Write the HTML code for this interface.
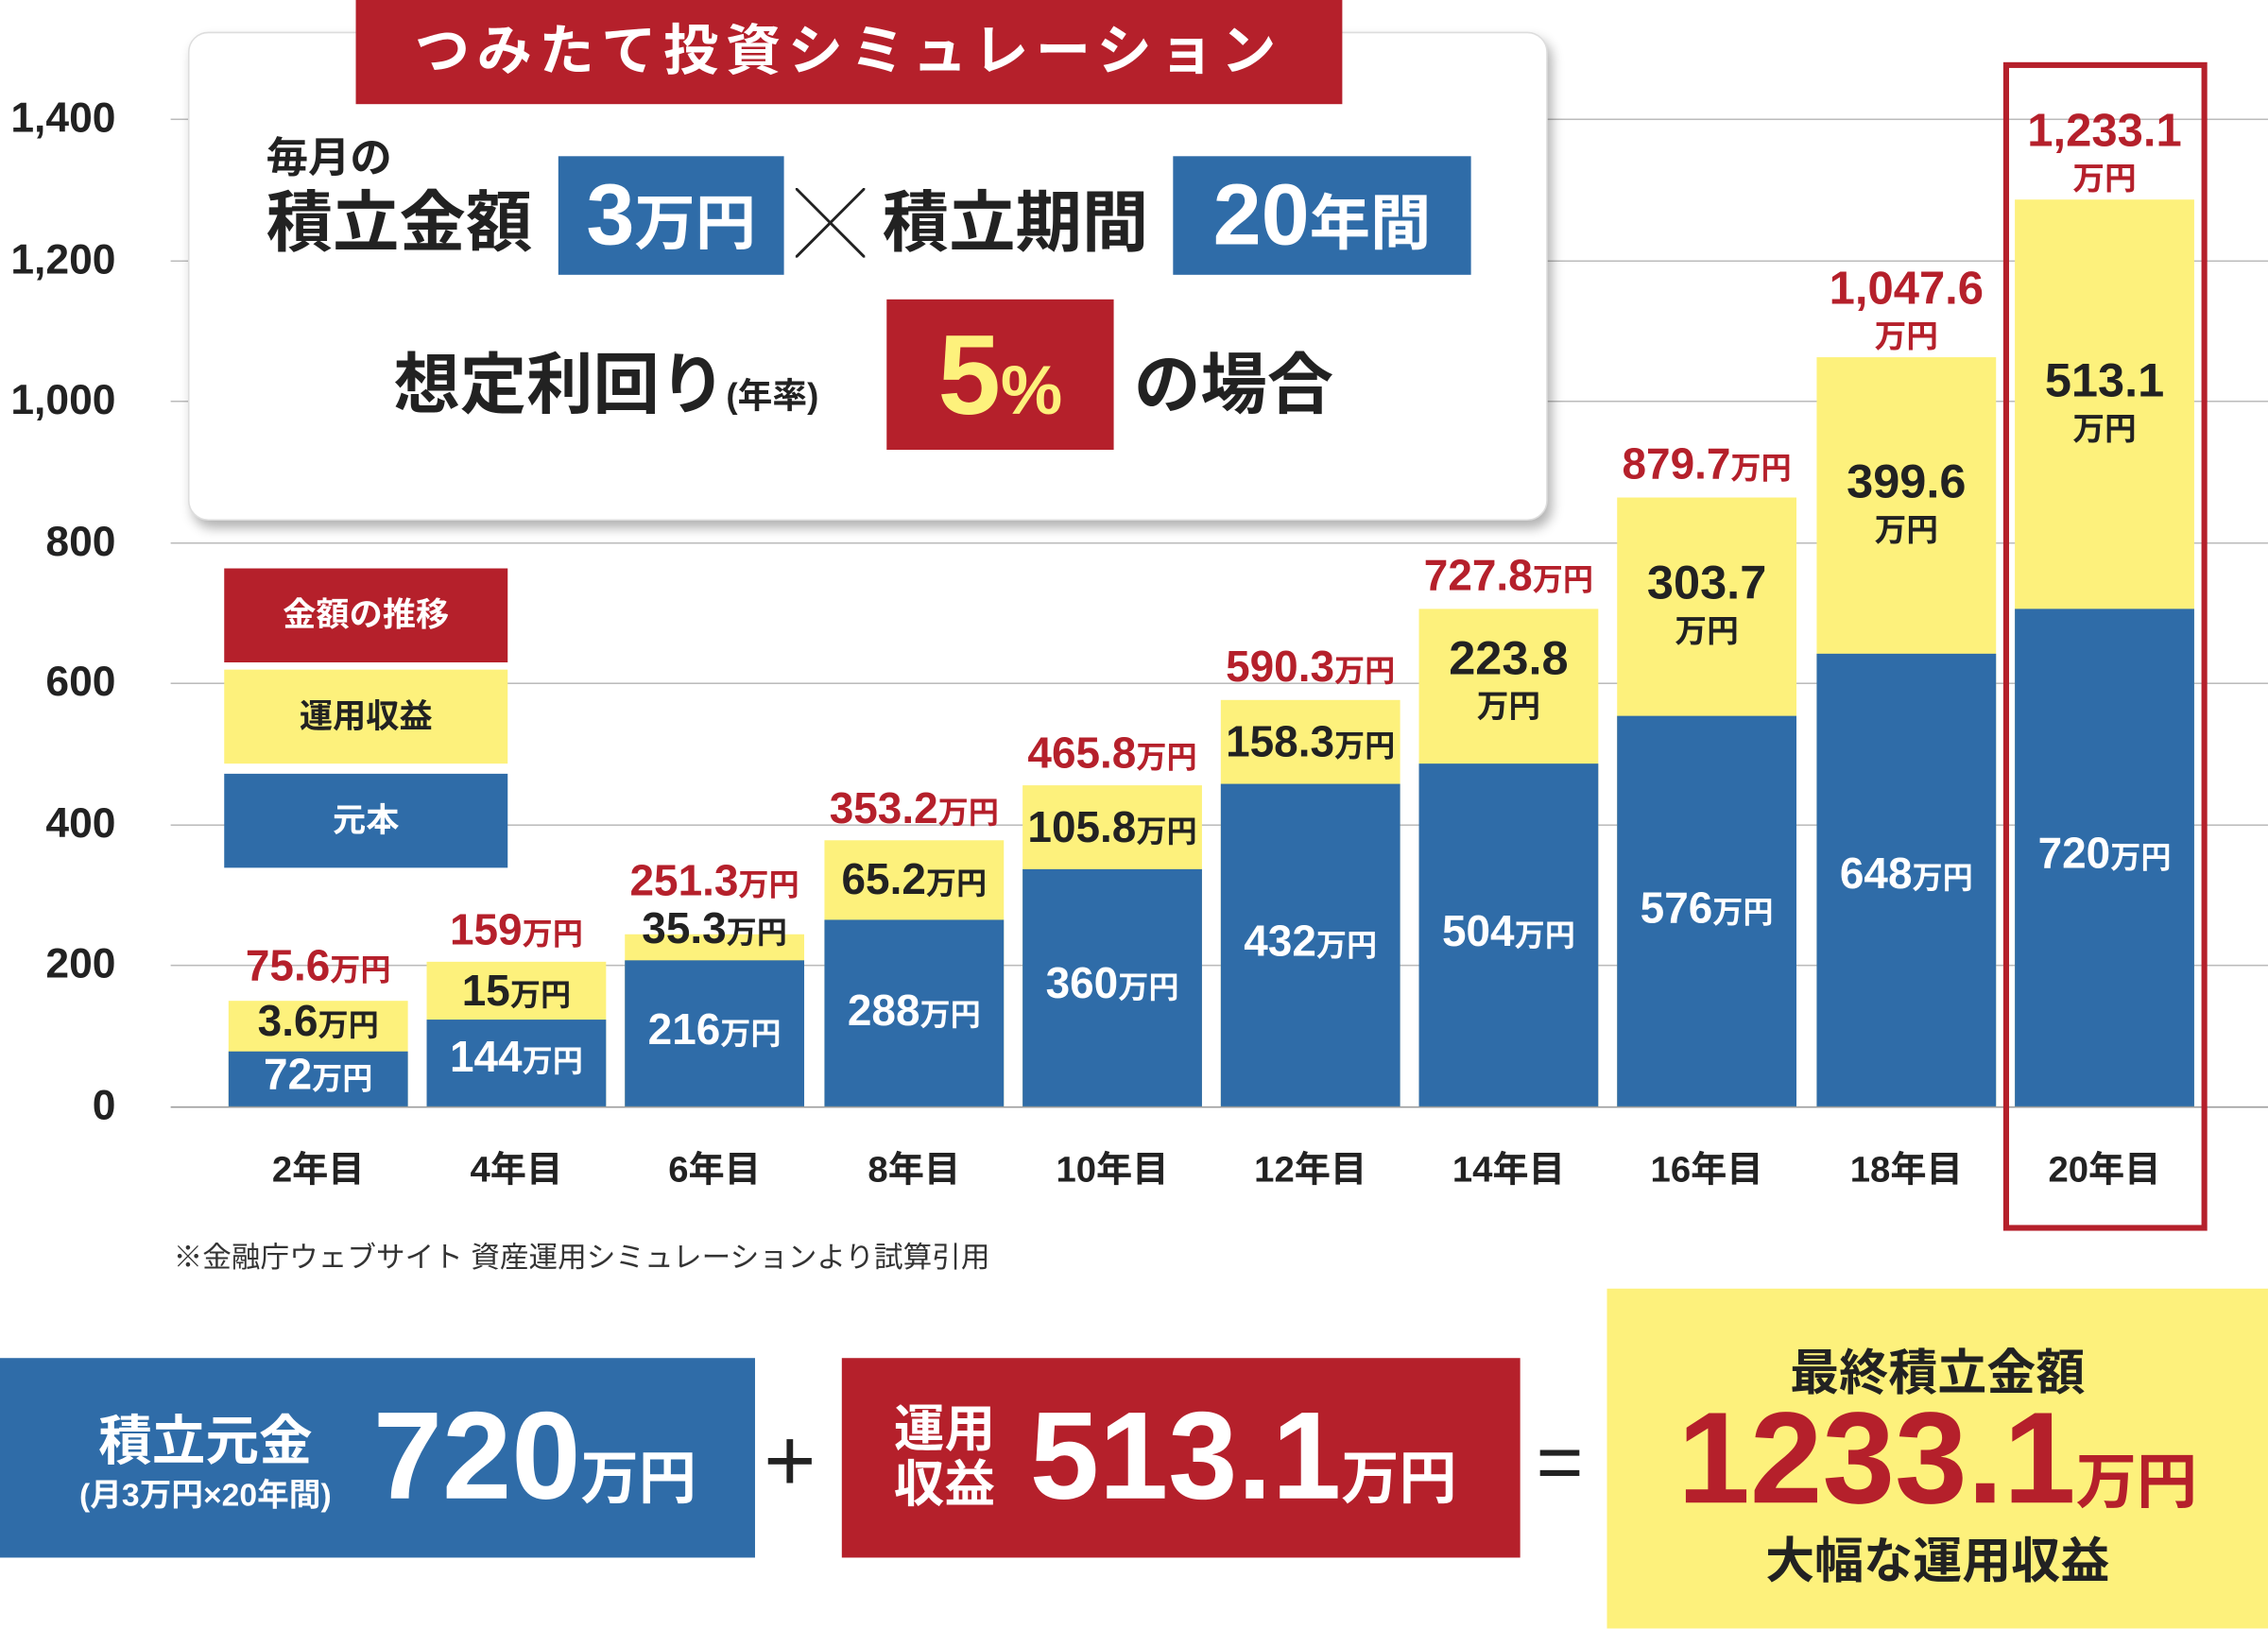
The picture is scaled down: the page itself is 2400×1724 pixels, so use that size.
<!DOCTYPE html>
<html><head><meta charset="utf-8"><style>
*{margin:0;padding:0;box-sizing:border-box}
html,body{width:2400px;height:1724px;overflow:hidden;background:#fff}
#w{position:absolute;left:0;top:0;width:1568px;height:1126px;transform:scale(1.5306);transform-origin:0 0;font-family:"Liberation Sans","Noto Sans CJK JP",sans-serif;font-weight:bold;color:#222}
.a{position:absolute;white-space:nowrap}
.g{position:absolute;left:118px;width:1450px;height:1px;background:#bbb}
.yl{position:absolute;left:0;width:80px;text-align:right;font-size:29px}
.b{position:absolute;width:124px;background:#2f6ca8}
.y{position:absolute;width:124px;background:#fdf17c}
.c{text-align:center;width:124px}
.w{color:#fff}
.r{color:#b5202b}
.s{font-size:0.7em}
</style></head><body><div id="w">
<div class="g" style="top:82px"></div><div class="g" style="top:180px"></div><div class="g" style="top:277px"></div><div class="g" style="top:375px"></div><div class="g" style="top:472px"></div><div class="g" style="top:570px"></div><div class="g" style="top:667px"></div><div class="g" style="top:765px;background:#999"></div>
<div class="yl" style="top:66px">1,400</div><div class="yl" style="top:164px">1,200</div><div class="yl" style="top:261px">1,000</div><div class="yl" style="top:359px">800</div><div class="yl" style="top:456px">600</div><div class="yl" style="top:554px">400</div><div class="yl" style="top:651px">200</div><div class="yl" style="top:749px">0</div>

<div class="y" style="left:158px;top:692px;height:73px"></div><div class="b" style="left:158px;top:727px;height:38px"></div>
<div class="y" style="left:295px;top:665px;height:100px"></div><div class="b" style="left:295px;top:705px;height:60px"></div>
<div class="y" style="left:432px;top:646px;height:119px"></div><div class="b" style="left:432px;top:664px;height:101px"></div>
<div class="y" style="left:570px;top:581px;height:184px"></div><div class="b" style="left:570px;top:636px;height:129px"></div>
<div class="y" style="left:707px;top:543px;height:222px"></div><div class="b" style="left:707px;top:601px;height:164px"></div>
<div class="y" style="left:844px;top:484px;height:281px"></div><div class="b" style="left:844px;top:542px;height:223px"></div>
<div class="y" style="left:981px;top:421px;height:344px"></div><div class="b" style="left:981px;top:528px;height:237px"></div>
<div class="y" style="left:1118px;top:344px;height:421px"></div><div class="b" style="left:1118px;top:495px;height:270px"></div>
<div class="y" style="left:1256px;top:247px;height:518px"></div><div class="b" style="left:1256px;top:452px;height:313px"></div>
<div class="y" style="left:1393px;top:138px;height:627px"></div><div class="b" style="left:1393px;top:421px;height:344px"></div>
<div class="a" style="left:1385px;top:43px;width:141px;height:808px;border:4px solid #b5202b"></div>

<div class="a c r" style="left:158px;top:652px;font-size:30px">75.6<span class="s">万円</span></div>
<div class="a c" style="left:158px;top:690px;font-size:30px">3.6<span class="s">万円</span></div>
<div class="a c w" style="left:158px;top:727px;font-size:30px">72<span class="s">万円</span></div>
<div class="a c r" style="left:295px;top:627px;font-size:30px">159<span class="s">万円</span></div>
<div class="a c" style="left:295px;top:669px;font-size:30px">15<span class="s">万円</span></div>
<div class="a c w" style="left:295px;top:715px;font-size:30px">144<span class="s">万円</span></div>
<div class="a c r" style="left:432px;top:593px;font-size:30px">251.3<span class="s">万円</span></div>
<div class="a c" style="left:432px;top:626px;font-size:30px">35.3<span class="s">万円</span></div>
<div class="a c w" style="left:432px;top:696px;font-size:30px">216<span class="s">万円</span></div>
<div class="a c r" style="left:570px;top:543px;font-size:30px">353.2<span class="s">万円</span></div>
<div class="a c" style="left:570px;top:592px;font-size:30px">65.2<span class="s">万円</span></div>
<div class="a c w" style="left:570px;top:683px;font-size:30px">288<span class="s">万円</span></div>
<div class="a c r" style="left:707px;top:505px;font-size:30px">465.8<span class="s">万円</span></div>
<div class="a c" style="left:707px;top:556px;font-size:30px">105.8<span class="s">万円</span></div>
<div class="a c w" style="left:707px;top:664px;font-size:30px">360<span class="s">万円</span></div>
<div class="a c r" style="left:844px;top:445px;font-size:30px">590.3<span class="s">万円</span></div>
<div class="a c" style="left:844px;top:497px;font-size:30px">158.3<span class="s">万円</span></div>
<div class="a c w" style="left:844px;top:635px;font-size:30px">432<span class="s">万円</span></div>
<div class="a c r" style="left:981px;top:382px;font-size:30px">727.8<span class="s">万円</span></div>
<div class="a c" style="left:981px;top:440px;font-size:33px;line-height:30px">223.8<br><span style="font-size:22px">万円</span></div>
<div class="a c w" style="left:981px;top:628px;font-size:30px">504<span class="s">万円</span></div>
<div class="a c r" style="left:1112px;top:305px;font-size:30px;width:136px">879.7<span class="s">万円</span></div>
<div class="a c" style="left:1118px;top:388px;font-size:33px;line-height:30px">303.7<br><span style="font-size:22px">万円</span></div>
<div class="a c w" style="left:1118px;top:612px;font-size:30px">576<span class="s">万円</span></div>
<div class="a c r" style="left:1250px;top:184px;font-size:32px;line-height:30px;width:136px">1,047.6<br><span style="font-size:22px">万円</span></div>
<div class="a c" style="left:1256px;top:318px;font-size:33px;line-height:30px">399.6<br><span style="font-size:22px">万円</span></div>
<div class="a c w" style="left:1256px;top:588px;font-size:30px">648<span class="s">万円</span></div>
<div class="a c r" style="left:1387px;top:75px;font-size:32px;line-height:30px;width:136px">1,233.1<br><span style="font-size:22px">万円</span></div>
<div class="a c" style="left:1393px;top:248px;font-size:33px;line-height:30px">513.1<br><span style="font-size:22px">万円</span></div>
<div class="a c w" style="left:1393px;top:574px;font-size:30px">720<span class="s">万円</span></div>

<div class="a c" style="left:158px;top:789px;font-size:25px">2年目</div>
<div class="a c" style="left:295px;top:789px;font-size:25px">4年目</div>
<div class="a c" style="left:432px;top:789px;font-size:25px">6年目</div>
<div class="a c" style="left:570px;top:789px;font-size:25px">8年目</div>
<div class="a c" style="left:707px;top:789px;font-size:25px">10年目</div>
<div class="a c" style="left:844px;top:789px;font-size:25px">12年目</div>
<div class="a c" style="left:981px;top:789px;font-size:25px">14年目</div>
<div class="a c" style="left:1118px;top:789px;font-size:25px">16年目</div>
<div class="a c" style="left:1256px;top:789px;font-size:25px">18年目</div>
<div class="a c" style="left:1393px;top:789px;font-size:25px">20年目</div>
<div class="a" style="left:120px;top:853px;font-size:20px;font-weight:normal;color:#333">※金融庁ウェブサイト 資産運用シミュレーションより試算引用</div>

<div class="a w" style="left:155px;top:393px;width:196px;height:65px;background:#b5202b;font-size:23px;text-align:center;line-height:65px">金額の推移</div>
<div class="a" style="left:155px;top:463px;width:196px;height:65px;background:#fdf17c;font-size:23px;text-align:center;line-height:65px">運用収益</div>
<div class="a w" style="left:155px;top:535px;width:196px;height:65px;background:#2f6ca8;font-size:23px;text-align:center;line-height:65px">元本</div>

<div class="a" style="left:130px;top:22px;width:940px;height:338px;background:#fff;border:1px solid #ddd;border-radius:14px;box-shadow:3px 5px 8px rgba(0,0,0,.3)"></div>
<div class="a w" style="left:246px;top:0;width:682px;height:72px;background:#b5202b;font-size:38px;text-align:center;line-height:72px;letter-spacing:5px">つみたて投資シミュレーション</div>
<div class="a" style="left:184px;top:86px;font-size:29px">毎月の</div>
<div class="a" style="left:184px;top:118px;font-size:46px">積立金額</div>
<div class="a w" style="left:386px;top:108px;width:156px;height:82px;background:#2f6ca8;font-size:60px;line-height:82px;text-align:center">3<span style="font-size:42px">万円</span></div>
<div class="a" style="left:550px;top:116px;font-size:48px;font-weight:normal">╳</div>
<div class="a" style="left:610px;top:118px;font-size:46px">積立期間</div>
<div class="a w" style="left:811px;top:108px;width:206px;height:82px;background:#2f6ca8;font-size:60px;line-height:82px;text-align:center">20<span style="font-size:42px">年間</span></div>
<div class="a" style="left:272px;top:230px;font-size:46px">想定利回り<span style="font-size:24px">(年率)</span></div>
<div class="a" style="left:613px;top:207px;width:157px;height:104px;background:#b5202b;color:#fdf17c;font-size:78px;line-height:104px;text-align:center">5<span style="font-size:48px">%</span></div>
<div class="a" style="left:784px;top:230px;font-size:46px">の場合</div>

<div class="a w" style="left:0;top:939px;width:522px;height:138px;background:#2f6ca8"></div>
<div class="a w c" style="left:30px;top:966px;width:224px;font-size:37px">積立元金</div>
<div class="a w c" style="left:30px;top:1016px;width:224px;font-size:22px">(月3万円×20年間)</div>
<div class="a w" style="left:258px;top:958px;font-size:86px">720<span style="font-size:40px">万円</span></div>
<div class="a" style="left:528px;top:975px;font-size:62px;font-weight:normal">+</div>
<div class="a w" style="left:582px;top:939px;width:469px;height:138px;background:#b5202b"></div>
<div class="a w" style="left:618px;top:970px;font-size:35px;line-height:38px">運用<br>収益</div>
<div class="a w" style="left:712px;top:958px;font-size:86px">513.1<span style="font-size:40px">万円</span></div>
<div class="a" style="left:1062px;top:978px;font-size:56px;font-weight:normal">=</div>
<div class="a" style="left:1111px;top:891px;width:457px;height:235px;background:#fdf17c"></div>
<div class="a c" style="left:1111px;top:922px;width:457px;font-size:34px">最終積立金額</div>
<div class="a c r" style="left:1111px;top:958px;width:457px;font-size:90px">1233.1<span style="font-size:42px">万円</span></div>
<div class="a c" style="left:1111px;top:1052px;width:457px;font-size:34px">大幅な運用収益</div>
</div></body></html>
